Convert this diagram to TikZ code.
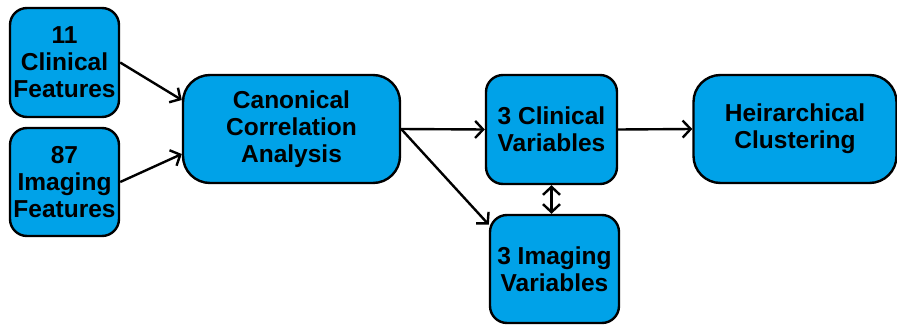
\documentclass[tikz,border=0pt]{standalone}
\usepackage{fontspec}
\setmainfont{Liberation Sans}
\usepackage{tikz}
\usetikzlibrary{arrows,arrows.meta}
\definecolor{boxblue}{RGB}{0,162,232}

\begin{document}
\begin{tikzpicture}[x=1pt,y=1pt]
\tikzstyle{every node}=[draw, line width=2.4pt, fill=boxblue, inner sep=0pt, align=center,
  font=\fontsize{24.5}{27}\selectfont\bfseries]
\tikzstyle{small box}=[rounded corners=17pt]
\tikzstyle{wide box}=[rounded corners=27pt]
\tikzstyle{link}=[line width=2.4pt, -{Straight Barb[length=8pt,width=17pt]}]
\useasboundingbox (0,0) rectangle (897,-324);
\draw (64.5,-62.5) node (clin) [small box, minimum width=109, minimum height=109] {11\\Clinical\\Features};
\draw (64.5,-182) node (img) [small box, minimum width=109, minimum height=108] {87\\Imaging\\Features};
\draw (291.5,-129) node (cca) [wide box, minimum width=217, minimum height=108] {Canonical\\Correlation\\Analysis};
\draw (551.5,-129.5) node (cvar) [small box, minimum width=131, minimum height=109] {3 Clinical\\Variables};
\draw (554.5,-269) node (ivar) [small box, minimum width=129, minimum height=108] {3 Imaging\\Variables};
\draw (795,-129) node (hc) [wide box, minimum width=203, minimum height=108] {Heirarchical\\Clustering};
\draw[link] (clin.east) -- ([yshift=29pt]cca.west);
\draw[link] (img.east) -- ([yshift=-25pt]cca.west);
\draw[link] (cca.east) -- (cvar.west);
\draw[link] (cca.east) -- (ivar.146);
\draw[link] (cvar.east) -- (hc.west);
\draw[link, {Straight Barb[length=8pt,width=17pt]}-{Straight Barb[length=8pt,width=17pt]}] (cvar.south) -- (cvar.south |- ivar.north);
\end{tikzpicture}
\end{document}
